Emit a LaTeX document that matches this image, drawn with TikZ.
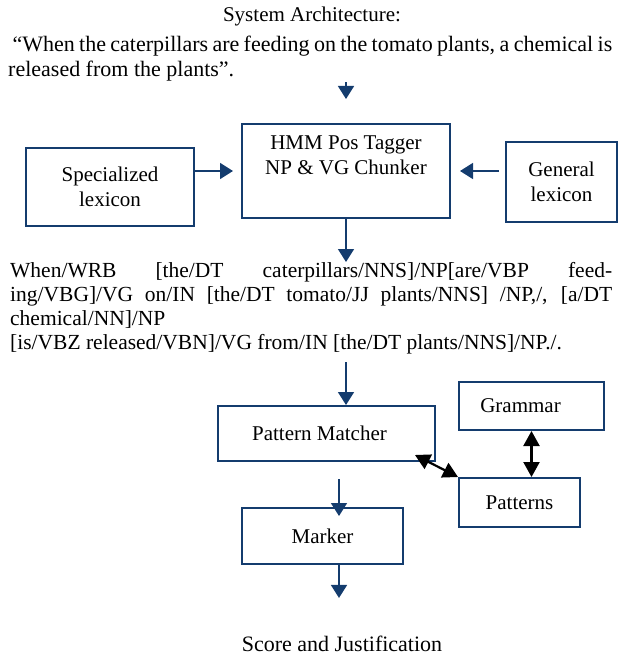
\documentclass[tikz,border=0pt]{standalone}
\usepackage{fontspec}
\setmainfont{Liberation Serif}
\usepackage{xcolor}
\usepackage{tikz}
\usetikzlibrary{arrows.meta, positioning, calc}
\definecolor{archblue}{RGB}{20, 60, 110}
\tikzset{
    block/.style={rectangle, draw=archblue, line width=2pt, inner sep=0pt, align=center, font=\fontsize{21}{24.5}\selectfont},
    plain/.style={inner sep=0pt, font=\fontsize{21}{24.5}\selectfont},
    arrow/.style={draw=archblue, line width=1.6pt, -{Triangle[width=16pt,length=13pt]}},
    biarrow/.style={draw=black, line width=2.2pt, {Triangle[width=16pt,length=15pt]}-{Triangle[width=16pt,length=15pt]}}
}
\begin{document}
\begin{tikzpicture}[x=1pt, y=-1pt]
    \useasboundingbox (0,0) rectangle (618,655);
    \node (title) [plain] at (312,16) {System Architecture:};
    \node (quote) [plain, anchor=north west, align=left, font=\fontsize{22}{24.5}\selectfont] at (8,36) {\makebox[604pt][s]{\ “When the caterpillars are feeding on the tomato plants, a chemical is}\\released from the plants”.};
    \node (spec) [block, minimum width=168pt, minimum height=78pt] at (110,187) {Specialized\\lexicon};
    \node (hmm) [block, minimum width=208pt, minimum height=94pt] at (346,171) {HMM Pos Tagger\\NP \& VG Chunker\\\strut};
    \node (gen) [block, minimum width=111pt, minimum height=80pt] at (561.5,182) {General\\lexicon};
    \node (tagged) [plain, anchor=north west, align=left, font=\fontsize{21.5}{24}\selectfont] at (10,262) {\makebox[602pt][s]{When/WRB [the/DT caterpillars/NNS]/NP[are/VBP feed-}\\\makebox[602pt][s]{ing/VBG]/VG on/IN [the/DT tomato/JJ plants/NNS] /NP,/, [a/DT}\\chemical/NN]/NP\\{[is/VBZ released/VBN]/VG from/IN [the/DT plants/NNS]/NP./.}};
    \node (pm) [block, minimum width=217pt, minimum height=55pt] at (326.5,433.5) {Pattern Matcher\hspace*{14pt}};
    \node (grammar) [block, minimum width=145pt, minimum height=48pt] at (531.5,406) {Grammar\hspace*{22pt}};
    \node (patterns) [block, minimum width=121pt, minimum height=49pt] at (519.5,502.5) {Patterns};
    \node (marker) [block, minimum width=161pt, minimum height=56pt] at (322.5,536) {Marker};
    \node (score) [plain, font=\fontsize{22}{24.5}\selectfont] at (342,644) {Score and Justification};

    \draw [arrow, shorten <=1pt, shorten >=24pt] (quote.south -| hmm.north) -- (hmm.north);
    \draw [arrow, shorten >=8pt] (spec.east |- hmm) -- (hmm.west);
    \draw [arrow, shorten <=6pt, shorten >=9pt] (gen.west |- hmm) -- (hmm.east);
    \draw [arrow] (hmm.south) -- (hmm.south |- tagged.north);
    \draw [arrow, shorten <=8pt] (tagged.south -| hmm.south) -- (pm.north -| hmm.south);
    \draw [arrow, shorten <=17pt, shorten >=-9pt] ([xshift=12.5pt]pm.south) -- ([xshift=16.5pt]marker.north);
    \draw [arrow, shorten >=38pt] ([xshift=16.5pt]marker.south) -- ([xshift=16.5pt]marker.south |- score.north);
    \draw [biarrow] (grammar.south) -- (grammar.south |- patterns.north);
    \draw [biarrow] ([xshift=-21pt,yshift=7pt]pm.south east) -- (patterns.north west);
\end{tikzpicture}
\end{document}
